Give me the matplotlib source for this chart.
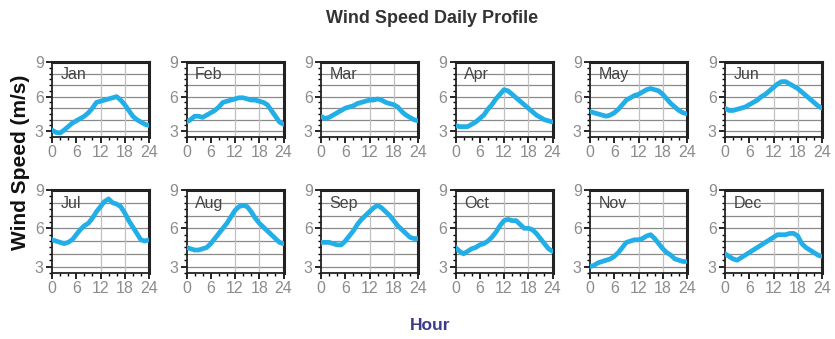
import matplotlib
matplotlib.use("Agg")
import matplotlib.pyplot as plt
from matplotlib.ticker import MultipleLocator

months = ["Jan", "Feb", "Mar", "Apr", "May", "Jun",
          "Jul", "Aug", "Sep", "Oct", "Nov", "Dec"]
hours = list(range(25))

jan = [3.1, 2.9, 2.85, 3.1, 3.4, 3.7, 3.9, 4.1, 4.3, 4.6, 5.0, 5.5, 5.6, 5.7, 5.8, 5.9, 6.0, 5.7, 5.3, 4.8, 4.3, 4.0, 3.8, 3.6, 3.5]
feb = [3.8, 4.0, 4.3, 4.3, 4.2, 4.4, 4.6, 4.8, 5.1, 5.5, 5.6, 5.7, 5.8, 5.9, 5.9, 5.8, 5.7, 5.7, 5.6, 5.5, 5.3, 4.8, 4.3, 3.8, 3.6]
mar = [4.3, 4.1, 4.2, 4.4, 4.6, 4.8, 5.0, 5.1, 5.2, 5.4, 5.5, 5.6, 5.7, 5.7, 5.8, 5.7, 5.5, 5.4, 5.3, 5.1, 4.7, 4.4, 4.2, 4.0, 3.9]
apr = [3.5, 3.4, 3.4, 3.4, 3.6, 3.8, 4.1, 4.4, 4.9, 5.3, 5.8, 6.2, 6.6, 6.5, 6.2, 5.9, 5.6, 5.3, 5.0, 4.7, 4.4, 4.2, 4.0, 3.9, 3.8]
may = [4.7, 4.6, 4.5, 4.4, 4.3, 4.4, 4.6, 4.9, 5.3, 5.7, 5.9, 6.1, 6.2, 6.4, 6.6, 6.7, 6.6, 6.5, 6.2, 5.8, 5.4, 5.1, 4.8, 4.6, 4.5]
jun = [5.0, 4.8, 4.8, 4.9, 5.0, 5.1, 5.3, 5.5, 5.7, 6.0, 6.2, 6.5, 6.8, 7.1, 7.3, 7.3, 7.1, 6.9, 6.7, 6.4, 6.1, 5.8, 5.5, 5.2, 5.0]
jul = [5.1, 5.0, 4.9, 4.8, 4.9, 5.1, 5.5, 5.9, 6.2, 6.4, 6.8, 7.3, 7.7, 8.1, 8.3, 8.0, 7.9, 7.7, 7.2, 6.6, 6.1, 5.6, 5.1, 5.0, 5.1]
aug = [4.5, 4.4, 4.3, 4.3, 4.4, 4.5, 4.8, 5.2, 5.6, 6.0, 6.4, 6.9, 7.4, 7.7, 7.8, 7.7, 7.3, 6.8, 6.4, 6.1, 5.8, 5.5, 5.2, 4.9, 4.8]
sep = [4.9, 4.9, 4.9, 4.8, 4.7, 4.7, 5.0, 5.4, 5.8, 6.3, 6.7, 7.0, 7.3, 7.6, 7.8, 7.6, 7.3, 7.0, 6.6, 6.2, 5.9, 5.6, 5.3, 5.2, 5.2]
oct_ = [4.5, 4.2, 4.0, 4.2, 4.4, 4.5, 4.7, 4.8, 5.0, 5.3, 5.7, 6.2, 6.6, 6.7, 6.6, 6.6, 6.3, 6.0, 6.0, 5.9, 5.6, 5.2, 4.8, 4.4, 4.2]
nov = [3.0, 3.1, 3.3, 3.4, 3.5, 3.6, 3.8, 4.1, 4.5, 4.9, 5.0, 5.1, 5.1, 5.2, 5.4, 5.5, 5.2, 4.8, 4.4, 4.1, 3.9, 3.6, 3.5, 3.4, 3.4]
dec = [4.0, 3.8, 3.6, 3.5, 3.7, 3.9, 4.1, 4.3, 4.5, 4.7, 4.9, 5.1, 5.3, 5.5, 5.5, 5.5, 5.6, 5.6, 5.4, 4.8, 4.5, 4.3, 4.1, 3.9, 3.8]

series = [jan, feb, mar, apr, may, jun, jul, aug, sep, oct_, nov, dec]
xticks = [0, 6, 12, 18, 24]
yticks = [3, 6, 9]

W, H = 835, 339
fig = plt.figure(figsize=(W / 100, H / 100), dpi=100)
plt.rcParams['font.family'] = ['Liberation Sans', 'DejaVu Sans']

lefts = [52, 186.5, 321, 455.5, 590, 725]
rows = [(62, 137), (190, 273)]
width = 97

for i, (name, vals) in enumerate(zip(months, series)):
    r, c = divmod(i, 6)
    top, bot = rows[r]
    ax = fig.add_axes([lefts[c] / W, 1 - bot / H, width / W, (bot - top) / H])
    ax.set_xlim(0, 24)
    ax.set_ylim(2.5, 9)
    for yv in [3, 4, 5, 6, 7, 8]:
        ax.axhline(yv, color='#8a8a8a', lw=0.9, zorder=1)
    for xv in [12, 18]:
        ax.axvline(xv, color='#c0c0c0', lw=0.9, zorder=1)
    ax.plot(hours, vals, color='#22aee6', lw=3.4, solid_capstyle='round', zorder=3)
    ax.set_xticks(xticks)
    ax.set_yticks(yticks)
    ax.xaxis.set_minor_locator(MultipleLocator(2))
    ax.yaxis.set_minor_locator(MultipleLocator(0.5))
    ax.tick_params(axis='both', which='major', labelsize=11.5, labelcolor='#8c8c8c',
                   length=4, width=1.2, pad=2, direction='out')
    ax.tick_params(axis='both', which='minor', length=2.5, width=1.0, direction='out')
    for s in ['top', 'right']:
        ax.spines[s].set_linewidth(2.2)
        ax.spines[s].set_color('#222222')
    for s in ['left', 'bottom']:
        ax.spines[s].set_linewidth(1.3)
        ax.spines[s].set_color('#222222')
    ax.text(0.09, 0.93, name, transform=ax.transAxes, ha='left', va='top',
            fontsize=11.5, color='#444444')

fig.text(0.517, 0.945, "Wind Speed Daily Profile", ha='center', va='center',
         fontsize=13, color='#333333', fontweight='bold')
fig.text(0.024, 0.52, "Wind Speed (m/s)", ha='center', va='center', rotation=90,
         fontsize=15, color='#111111', fontweight='bold')
fig.text(0.515, 0.04, "Hour", ha='center', va='center',
         fontsize=12.5, color='#3b3b8a', fontweight='bold')

fig.savefig("out.png", dpi=100)
